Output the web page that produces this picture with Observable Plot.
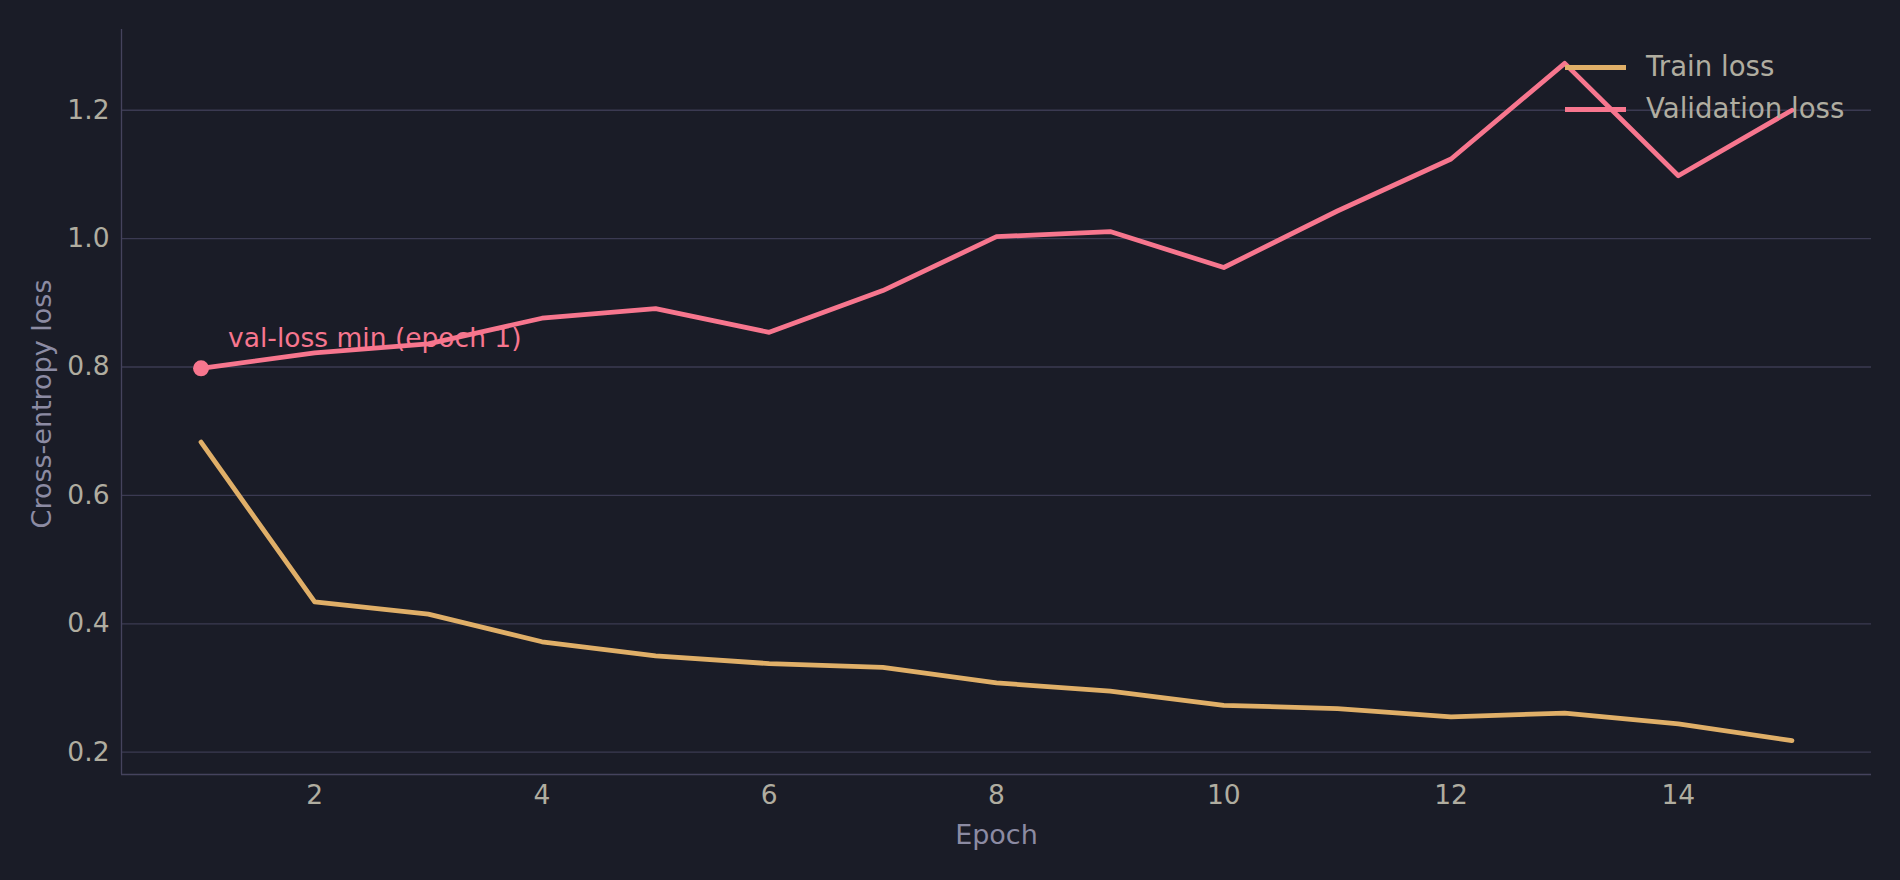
<!DOCTYPE html>
<html><head><meta charset="utf-8">
<script src="https://cdn.jsdelivr.net/npm/d3@7"></script>
<script src="https://cdn.jsdelivr.net/npm/@observablehq/plot@0.6"></script>
<style>
html,body{margin:0;padding:0;background:#1a1c27;}
#wrap{position:relative;width:1900px;height:880px;overflow:hidden;}
#legend{position:absolute;left:1565px;top:46px;font-family:"DejaVu Sans",sans-serif;font-size:27.6px;color:#b0ada0;}
.row{display:flex;align-items:center;height:42px;line-height:42px;white-space:nowrap;}
.sw{width:61px;height:5px;margin-right:20px;flex:none;}
</style></head><body><div id="wrap"></div>
<script>
const epochs = [1,2,3,4,5,6,7,8,9,10,11,12,13,14,15];
const trainLoss = [0.683,0.434,0.415,0.372,0.350,0.338,0.332,0.308,0.295,0.273,0.268,0.255,0.261,0.244,0.218];
const valLoss = [0.798,0.822,0.836,0.876,0.891,0.854,0.919,1.003,1.011,0.955,1.043,1.124,1.273,1.098,1.200];
const seriesNames = ["Train loss","Validation loss"];
const seriesColors = ["#e0af68","#f7768e"];
const xTicks = [2,4,6,8,10,12,14];
const yTicks = [0.2,0.4,0.6,0.8,1.0,1.2];
const xLabel = "Epoch";
const yLabel = "Cross-entropy loss";

const rows = [];
epochs.forEach((e,i)=>{
  rows.push({epoch:e, loss:trainLoss[i], series:seriesNames[0]});
});
epochs.forEach((e,i)=>{
  rows.push({epoch:e, loss:valLoss[i], series:seriesNames[1]});
});
const minIdx = d3.minIndex(valLoss);
const minPoint = [{epoch:epochs[minIdx], loss:valLoss[minIdx], text:`val-loss min (epoch ${epochs[minIdx]})`}];

const xr = d3.extent(epochs), xpad = (xr[1]-xr[0])*0.05;
const allL = trainLoss.concat(valLoss);
const yr = d3.extent(allL), ypad = (yr[1]-yr[0])*0.05;
const xDomain = [xr[0]-xpad, xr[1]+xpad];
const yDomain = [yr[0]-ypad, yr[1]+ypad];

const tickColor = "#b0ada0", labelColor = "#8c8ba3", gridColor = "#3b3a52", spineColor = "#45435d";

const chart = Plot.plot({
  width:1900, height:880,
  marginLeft:121, marginRight:29, marginTop:29, marginBottom:106,
  style:{background:"#1a1c27", fontFamily:"DejaVu Sans, sans-serif", fontSize:"26.5px", color:tickColor},
  x:{domain:xDomain},
  y:{domain:yDomain},
  color:{domain:seriesNames, range:seriesColors},
  marks:[
    Plot.gridY(yTicks, {stroke:gridColor, strokeOpacity:1, strokeWidth:1.3}),
    Plot.ruleX([xDomain[0]], {stroke:spineColor, strokeWidth:1.3}),
    Plot.ruleY([yDomain[0]], {stroke:spineColor, strokeWidth:1.3}),
    Plot.axisY(yTicks, {tickSize:0, tickPadding:12, tickFormat:d3.format(".1f"), fontSize:26.5, fill:tickColor, label:null}),
    Plot.axisX(xTicks, {tickSize:0, tickPadding:11, tickFormat:d3.format("d"), fontSize:26.5, fill:tickColor, label:null}),
    Plot.text([xLabel], {frameAnchor:"bottom", dy:69, lineAnchor:"bottom", fontSize:27, fill:labelColor, text:d=>d}),
    Plot.text([yLabel], {frameAnchor:"left", textAnchor:"middle", dx:-79, dy:2, rotate:-90, fontSize:27, fill:labelColor, text:d=>d}),
    Plot.line(rows, {x:"epoch", y:"loss", z:"series", stroke:"series", strokeWidth:4.8, strokeLinejoin:"round"}),
    Plot.dot(minPoint, {x:"epoch", y:"loss", r:8, fill:seriesColors[1], stroke:"none"}),
    Plot.text(minPoint, {x:"epoch", y:"loss", text:"text", textAnchor:"start", lineAnchor:"bottom", dx:27, dy:-21, fontSize:26.5, fill:seriesColors[1]})
  ]
});
const wrap = document.getElementById("wrap");
wrap.appendChild(chart);
const lg = document.createElement("div");
lg.id = "legend";
seriesNames.forEach((n,i)=>{
  const r = document.createElement("div"); r.className="row";
  const s = document.createElement("span"); s.className="sw"; s.style.background=seriesColors[i];
  const t = document.createElement("span"); t.textContent=n;
  r.appendChild(s); r.appendChild(t); lg.appendChild(r);
});
wrap.appendChild(lg);
</script></body></html>
